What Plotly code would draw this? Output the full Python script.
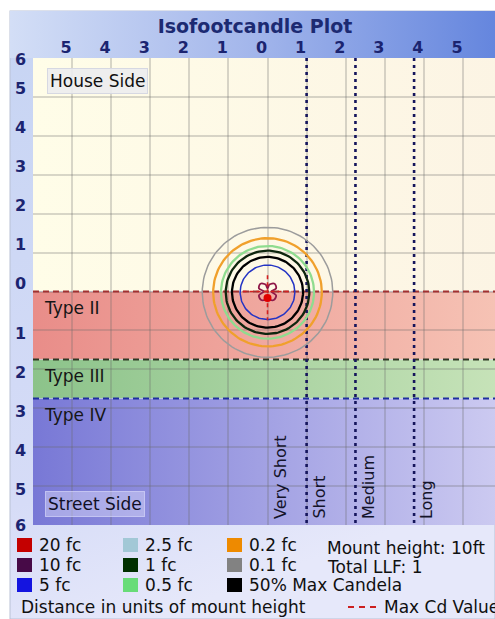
import base64
import numpy as np
import plotly.graph_objects as go

# ---------------- data ----------------
x_tick_vals = [-5, -4, -3, -2, -1, 0, 1, 2, 3, 4, 5]
x_tick_text = ["5", "4", "3", "2", "1", "0", "1", "2", "3", "4", "5"]
y_tick_vals = [6, 5, 4, 3, 2, 1, 0, -1, -2, -3, -4, -5, -6]
y_tick_text = ["6", "5", "4", "3", "2", "1", "0", "1", "2", "3", "4", "5", "6"]

# isofootcandle contours (radius in mount heights)
contour_names = ["0.1 fc", "0.2 fc", "0.5 fc", "1 fc", "50% Max Candela", "5 fc"]
contour_radii = [1.67, 1.39, 1.19, 1.07, 0.91, 0.70]
contour_colors = ["#9c9c9c", "#f0a02c", "#8fdc8f", "#0e260e", "#000000", "#2434c4"]

# 10 fc petal-shaped contour
flower_x = [0.10, 0.22, 0.18, 0.05, 0.00, -0.05, -0.18, -0.22, -0.10, -0.22, -0.16, -0.04, 0.00, 0.04, 0.16, 0.22, 0.10]
flower_y = [0.00, 0.08, 0.20, 0.18, 0.08, 0.18, 0.20, 0.08, 0.00, -0.10, -0.22, -0.20, -0.10, -0.20, -0.22, -0.10, 0.00]
# 20 fc spot
spot_x = [0.0]
spot_y = [-0.17]

# max candela cross
maxcd_h_x = [-0.64, 0.64]
maxcd_h_y = [0.0, 0.0]
maxcd_v_x = [0.0, 0.0]
maxcd_v_y = [0.42, -0.74]

# vertical classification bands
band_names = ["Type II", "Type III", "Type IV"]
band_tops = [0.0, -1.75, -2.75]
band_bottoms = [-1.75, -2.75, -6.0]
house_top = 6.0
house_bottom = 0.0

# lateral classification
lateral_lines = [1.0, 2.25, 3.75]
zone_starts = [0.0, 1.0, 2.25, 3.75]
zone_labels = ["Very Short", "Short", "Medium", "Long"]

# legend
legend_labels = [["20 fc", "10 fc", "5 fc"],
                 ["2.5 fc", "1 fc", "0.5 fc"],
                 ["0.2 fc", "0.1 fc", "50% Max Candela"]]
legend_colors = [["#c40000", "#470a47", "#1414e0"],
                 ["#a2c8d6", "#003000", "#68dc78"],
                 ["#ee8a00", "#828282", "#000000"]]
info_lines = ["Mount height: 10ft", "Total LLF: 1"]

# ---------------- styles ----------------
FONT = "DejaVu Sans"
NAVY = "#1b2470"
band_left = ["#e98d89", "#8cc38a", "#7878d6"]
band_right = ["#f6c3b5", "#c7e3b9", "#cdcbf1"]
band_line_colors = ["#a33030", "#2e3822", "#1e2ea0"]
house_left, house_right = "#fffde8", "#fcf4e4"

W, H = 495, 619
ML, MR, MT, MB = 33, 0, 58, 94
PW, PH = W - ML - MR, H - MT - MB


def px_x(p):
    return (p - ML) / PW


def px_y(p):
    return (H - MB - p) / PH


def svg_uri(svg):
    return "data:image/svg+xml;base64," + base64.b64encode(svg.encode()).decode()


def hgrad(c1, c2):
    return svg_uri(
        '<svg xmlns="http://www.w3.org/2000/svg" width="100" height="100" viewBox="0 0 100 100" '
        'preserveAspectRatio="none"><defs><linearGradient id="g" x1="0" y1="0" x2="1" y2="0">'
        f'<stop offset="0" stop-color="{c1}"/><stop offset="1" stop-color="{c2}"/>'
        '</linearGradient></defs><rect width="100" height="100" fill="url(#g)"/></svg>')


frame_svg = (
    f'<svg xmlns="http://www.w3.org/2000/svg" width="{W}" height="{H}" viewBox="0 0 {W} {H}" preserveAspectRatio="none">'
    '<defs>'
    '<linearGradient id="hd" x1="0" y1="0" x2="1" y2="0">'
    '<stop offset="0" stop-color="#d3def6"/><stop offset="0.5" stop-color="#a3b6eb"/>'
    '<stop offset="1" stop-color="#6586de"/></linearGradient>'
    '<linearGradient id="bd" x1="0" y1="0" x2="0.3" y2="1">'
    '<stop offset="0" stop-color="#c6d4f3"/><stop offset="0.75" stop-color="#d6dcf7"/>'
    '<stop offset="1" stop-color="#e6e8fa"/></linearGradient>'
    '</defs>'
    f'<rect x="0" y="0" width="{W}" height="{H}" fill="#ffffff"/>'
    f'<rect x="10" y="11" width="{W-10}" height="{H-11}" fill="url(#bd)" stroke="#b9c2d6" stroke-width="1"/>'
    f'<rect x="10" y="11" width="{W-10}" height="47" fill="url(#hd)"/>'
    '</svg>')

fig = go.Figure()

images = [dict(source=svg_uri(frame_svg), xref="paper", yref="paper",
               x=px_x(0), y=px_y(0), sizex=W / PW, sizey=H / PH,
               xanchor="left", yanchor="top", sizing="stretch", layer="below")]
images.append(dict(source=hgrad(house_left, house_right), xref="x", yref="y",
                   x=-6, y=house_top, sizex=12, sizey=house_top - house_bottom,
                   xanchor="left", yanchor="top", sizing="stretch", layer="below"))
for top, bot, c1, c2 in zip(band_tops, band_bottoms, band_left, band_right):
    images.append(dict(source=hgrad(c1, c2), xref="x", yref="y",
                       x=-6, y=top, sizex=12, sizey=top - bot,
                       xanchor="left", yanchor="top", sizing="stretch", layer="below"))

# band boundary dashed lines
for top, col in zip(band_tops, band_line_colors):
    fig.add_trace(go.Scatter(x=[-6, 6], y=[top, top], mode="lines",
                             line=dict(color=col, width=2, dash="6px,4px"),
                             hoverinfo="skip", showlegend=False))

# lateral dotted lines
for lx in lateral_lines:
    fig.add_trace(go.Scatter(x=[lx, lx], y=[6, -6], mode="lines",
                             line=dict(color="#15155c", width=2.6, dash="3px,4px"),
                             hoverinfo="skip", showlegend=False))

# contours
theta = np.linspace(0, 2 * np.pi, 121)
for name, r, col in zip(contour_names, contour_radii, contour_colors):
    w = 1.5 if name in ("0.1 fc", "5 fc") else 2.3
    fig.add_trace(go.Scatter(x=r * np.cos(theta), y=r * np.sin(theta) - 0.02, mode="lines",
                             line=dict(color=col, width=w), name=name,
                             hoverinfo="skip", showlegend=False))

fig.add_trace(go.Scatter(x=flower_x, y=flower_y, mode="lines",
                         line=dict(color="#8e1848", width=1.8, shape="spline"),
                         hoverinfo="skip", showlegend=False))
fig.add_trace(go.Scatter(x=maxcd_h_x, y=maxcd_h_y, mode="lines",
                         line=dict(color="#d42020", width=1.6, dash="4px,3px"),
                         hoverinfo="skip", showlegend=False))
fig.add_trace(go.Scatter(x=maxcd_v_x, y=maxcd_v_y, mode="lines",
                         line=dict(color="#d42020", width=1.6, dash="4px,3px"),
                         hoverinfo="skip", showlegend=False))
fig.add_trace(go.Scatter(x=spot_x, y=spot_y, mode="markers",
                         marker=dict(color="#e00000", size=8, symbol="circle"),
                         hoverinfo="skip", showlegend=False))

annotations = []
# y tick labels (drawn as annotations to reproduce their offset)
y_label_shift = [-1, 8, 8, 8, 8, 8, 8, -3, -3, -3, -3, -3, 0]
for v, t, s in zip(y_tick_vals, y_tick_text, y_label_shift):
    annotations.append(dict(text=t, xref="paper", yref="y", x=0, y=v, xanchor="right",
                            yanchor="middle", xshift=-5, yshift=s, showarrow=False,
                            font=dict(family=FONT, size=16, color=NAVY, weight="bold")))

# band labels
for name, top in zip(band_names, band_tops):
    annotations.append(dict(text=name, xref="x", yref="y", x=-6, y=top, xanchor="left",
                            yanchor="middle", xshift=9, yshift=-16, showarrow=False,
                            font=dict(family=FONT, size=17, color="#161616")))

annotations.append(dict(text="House Side", xref="x", yref="y", x=-6, y=6, xanchor="left",
                        yanchor="top", xshift=14, yshift=-10, showarrow=False,
                        bgcolor="rgba(236,236,238,0.9)", bordercolor="#d6d8e2", borderwidth=1,
                        borderpad=2, font=dict(family=FONT, size=17, color="#101010")))
annotations.append(dict(text="Street Side", xref="x", yref="y", x=-6, y=-6, xanchor="left",
                        yanchor="bottom", xshift=12, yshift=8, showarrow=False,
                        bgcolor="rgba(222,222,250,0.45)", bordercolor="rgba(215,215,250,0.7)",
                        borderwidth=1, borderpad=2, font=dict(family=FONT, size=17, color="#101024")))

for zs, zl in zip(zone_starts, zone_labels):
    annotations.append(dict(text=zl, xref="x", yref="y", x=zs, y=-6, xanchor="center",
                            yanchor="bottom", xshift=12.5, yshift=4, textangle=-90, showarrow=False,
                            font=dict(family=FONT, size=16, color="#14142a")))

# legend
shapes = []
col_swatch_x = [17, 123, 227]
row_y = [545, 565, 585]
for ci, (labels, colors) in enumerate(zip(legend_labels, legend_colors)):
    for ri, (lab, col) in enumerate(zip(labels, colors)):
        sx = col_swatch_x[ci]
        sy = row_y[ri]
        shapes.append(dict(type="rect", xref="paper", yref="paper",
                           x0=px_x(sx), x1=px_x(sx + 15), y0=px_y(sy - 7), y1=px_y(sy + 7),
                           fillcolor=col, line=dict(width=0)))
        annotations.append(dict(text=lab, xref="paper", yref="paper", x=px_x(sx + 20), y=px_y(sy),
                                xanchor="left", yanchor="middle", showarrow=False,
                                font=dict(family=FONT, size=17, color="#101010")))
for i, t in enumerate(info_lines):
    annotations.append(dict(text=t, xref="paper", yref="paper", x=px_x(325), y=px_y(548 + 19 * i),
                            xanchor="left", yanchor="middle", showarrow=False,
                            font=dict(family=FONT, size=17, color="#101010")))
annotations.append(dict(text="Distance in units of mount height", xref="paper", yref="paper",
                        x=px_x(19), y=px_y(607), xanchor="left", yanchor="middle", showarrow=False,
                        font=dict(family=FONT, size=17, color="#101010")))
shapes.append(dict(type="line", xref="paper", yref="paper", x0=px_x(348), x1=px_x(378),
                   y0=px_y(607), y1=px_y(607), line=dict(color="#cc2020", width=2, dash="6px,5px")))
annotations.append(dict(text="Max Cd Value", xref="paper", yref="paper",
                        x=px_x(382), y=px_y(607), xanchor="left", yanchor="middle", showarrow=False,
                        font=dict(family=FONT, size=17, color="#101010")))

fig.update_layout(
    width=W, height=H,
    margin=dict(l=ML, r=MR, t=MT, b=MB),
    paper_bgcolor="#ffffff", plot_bgcolor="rgba(0,0,0,0)",
    title=dict(text="Isofootcandle Plot", x=255 / W, xref="container", xanchor="center",
               y=1 - 26 / H, yref="container", yanchor="middle",
               font=dict(family=FONT, size=19, color="#1c2a72", weight="bold")),
    xaxis=dict(range=[-6, 6 - 0.18], side="top", tickvals=x_tick_vals, ticktext=x_tick_text,
               showgrid=True, gridcolor="rgba(105,105,105,0.26)", gridwidth=1.6,
               zeroline=False, showline=False, ticks="", ticklabelshift=-6, ticklabelstandoff=1,
               tickfont=dict(family=FONT, size=16, color=NAVY, weight="bold"), fixedrange=True),
    yaxis=dict(range=[-6, 6], tickvals=y_tick_vals, showticklabels=False,
               showgrid=True, gridcolor="rgba(105,105,105,0.26)", gridwidth=1.6,
               zeroline=False, showline=False, ticks="", fixedrange=True),
    images=images, shapes=shapes, annotations=annotations,
    showlegend=False,
)

fig.write_html("out.html", config={"displayModeBar": False},
               post_script="document.body.style.margin='0px';document.body.style.overflow='hidden';")
